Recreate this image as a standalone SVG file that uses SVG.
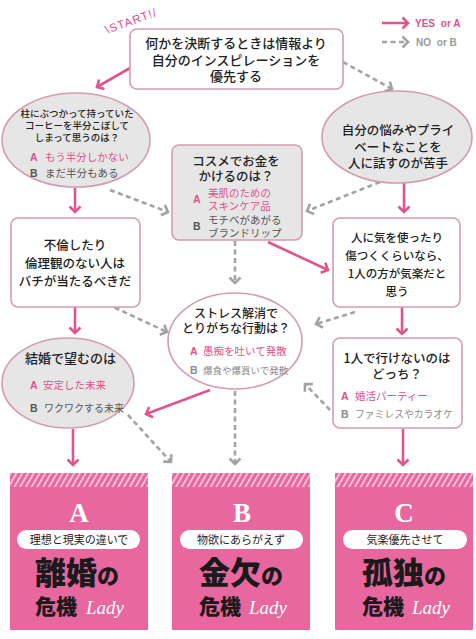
<svg xmlns="http://www.w3.org/2000/svg" width="476" height="639" viewBox="0 0 476 639">
<defs>
<style>
.box{fill:#fff;stroke:#d49bb4;stroke-width:1.6}
.gbox{fill:#e6e6e6;stroke:#d49bb4;stroke-width:1.6}
.q{font-family:"Noto Sans CJK JP","Noto Sans",sans-serif;font-weight:500;fill:#222;text-anchor:middle}
.o{font-family:"Noto Sans CJK JP","Noto Sans",sans-serif;font-weight:400}
.pa{fill:#e0508c}
.gd{fill:#555}
.gl{fill:#8a8a8a}
.lab{font-family:"Liberation Sans",sans-serif;font-weight:700}
.yes{fill:none;stroke:#e0558f;stroke-width:2.6;marker-end:url(#mp)}
.no{fill:none;stroke:#a3a3a3;stroke-width:2.6;stroke-dasharray:5 3.5;marker-end:url(#mg)}
.card{fill:#e8679f}
.pill{fill:#fff}
.pt{font-family:"Noto Sans CJK JP",sans-serif;font-size:11px;fill:#222;text-anchor:middle}
.big{font-family:"Noto Sans CJK JP",sans-serif;font-weight:900;fill:#1a1a1a}
.lady{font-family:"Liberation Serif",serif;font-style:italic;font-size:19px;fill:#fff}
.let{font-family:"Liberation Serif",serif;font-weight:700;font-size:27px;fill:#fff;text-anchor:middle}
</style>
<marker id="mp" markerUnits="userSpaceOnUse" markerWidth="14" markerHeight="14" refX="7" refY="7" orient="auto" viewBox="0 0 14 14">
<path d="M1.5,1.5 L7,7 L1.5,12.5" fill="none" stroke="#e0558f" stroke-width="2.6"/>
</marker>
<marker id="mg" markerUnits="userSpaceOnUse" markerWidth="14" markerHeight="14" refX="7" refY="7" orient="auto" viewBox="0 0 14 14">
<path d="M1.5,1.5 L7,7 L1.5,12.5" fill="none" stroke="#a3a3a3" stroke-width="2.6"/>
</marker>
<pattern id="stripe" width="5" height="5" patternUnits="userSpaceOnUse" patternTransform="rotate(30)">
<rect x="0" y="0" width="1.6" height="5" fill="#fbd3e4"/>
</pattern>
</defs>
<rect width="476" height="639" fill="#fff"/>

<g id="legend">
<line x1="382" y1="23" x2="408" y2="23" class="yes"/>
<text x="415" y="27" class="lab" font-size="10" fill="#e0508c">YES <tspan dx="3">or A</tspan></text>
<line x1="382" y1="42" x2="408" y2="42" class="no"/>
<text x="416" y="46" class="lab" font-size="10" fill="#9a9a9a">NO <tspan dx="3">or B</tspan></text>
</g>

<g id="start">
<text x="107" y="34" transform="rotate(-20 107 34)" font-family="Liberation Sans, sans-serif" font-size="11.5" fill="#e0508c" letter-spacing="1">\START!/</text>
</g>

<g id="connectors">
<line x1="130" y1="68" x2="97" y2="87" class="yes"/>
<line x1="343" y1="62" x2="392" y2="89" class="no"/>
<line x1="75" y1="188" x2="75" y2="212" class="yes"/>
<line x1="110" y1="190" x2="168" y2="212" class="no"/>
<line x1="380" y1="182" x2="307" y2="211" class="no"/>
<line x1="404" y1="183" x2="404" y2="212" class="yes"/>
<line x1="268" y1="242" x2="328" y2="270" class="yes"/>
<line x1="235" y1="241" x2="235" y2="283" class="no"/>
<line x1="75" y1="307" x2="75" y2="333" class="yes"/>
<line x1="107" y1="304" x2="167" y2="332" class="no"/>
<line x1="355" y1="312" x2="316" y2="324" class="no"/>
<line x1="402" y1="307" x2="402" y2="334" class="yes"/>
<line x1="210" y1="390" x2="146" y2="414" class="yes"/>
<line x1="235" y1="391" x2="235" y2="464" class="no"/>
<line x1="330" y1="410" x2="305" y2="384" class="no"/>
<line x1="128" y1="415" x2="171" y2="462" class="no"/>
<line x1="73" y1="429" x2="73" y2="465" class="yes"/>
<line x1="403" y1="429" x2="403" y2="465" class="yes"/>
</g>

<g id="n-start">
<rect x="130" y="29" width="213" height="60" rx="7" class="box"/>
<text class="q" font-size="13"><tspan x="236" y="48">何かを決断するときは情報より</tspan><tspan x="236" y="65">自分のインスピレーションを</tspan><tspan x="236" y="81">優先する</tspan></text>
</g>

<g id="n-coffee">
<ellipse cx="76" cy="140" rx="74" ry="47" class="gbox"/>
<text class="q" font-size="9.5"><tspan x="77" y="117">柱にぶつかって持っていた</tspan><tspan x="77" y="129">コーヒーを半分こぼして</tspan><tspan x="77" y="141">しまって思うのは？</tspan></text>
<text x="30" y="161" class="lab pa" font-size="10.5">A</text>
<text x="45" y="161" class="o pa" font-size="10.5">もう半分しかない</text>
<text x="30" y="177" class="lab gd" font-size="10.5">B</text>
<text x="45" y="177" class="o gd" font-size="10.5">まだ半分もある</text>
</g>

<g id="n-cosme">
<rect x="172" y="145" width="130" height="95" rx="7" class="gbox"/>
<text class="q" font-size="12.5"><tspan x="236" y="166">コスメでお金を</tspan><tspan x="236" y="181">かけるのは？</tspan></text>
<text x="193" y="203" class="lab pa" font-size="10.5">A</text>
<text class="o pa" font-size="10.5"><tspan x="208" y="197">美肌のための</tspan><tspan x="208" y="209.5">スキンケア品</tspan></text>
<text x="193" y="230" class="lab gd" font-size="10.5">B</text>
<text class="o gd" font-size="10.5"><tspan x="208" y="224">モチベがあがる</tspan><tspan x="208" y="236.5">ブランドリップ</tspan></text>
</g>

<g id="n-private">
<ellipse cx="397" cy="137" rx="75" ry="46" class="gbox"/>
<text class="q" font-size="12.5"><tspan x="398" y="135">自分の悩みやプライ</tspan><tspan x="398" y="152">ベートなことを</tspan><tspan x="398" y="168">人に話すのが苦手</tspan></text>
</g>

<g id="n-furin">
<rect x="11" y="218" width="129" height="89" rx="7" class="box"/>
<text class="q" font-size="12.5"><tspan x="75" y="250">不倫したり</tspan><tspan x="75" y="268">倫理観のない人は</tspan><tspan x="75" y="286">バチが当たるべきだ</tspan></text>
</g>

<g id="n-hitori">
<rect x="333" y="218" width="127" height="89" rx="7" class="box"/>
<text class="q" font-size="11.5"><tspan x="397" y="242">人に気を使ったり</tspan><tspan x="397" y="260">傷つくくらいなら、</tspan><tspan x="397" y="278">1人の方が気楽だと</tspan><tspan x="397" y="296">思う</tspan></text>
</g>

<g id="n-stress">
<ellipse cx="235" cy="341" rx="67" ry="48" class="box"/>
<text class="q" font-size="12"><tspan x="236" y="318">ストレス解消で</tspan><tspan x="236" y="333">とりがちな行動は？</tspan></text>
<text x="190" y="355" class="lab pa" font-size="10.5">A</text>
<text x="203" y="355" class="o pa" font-size="10.5">愚痴を吐いて発散</text>
<text x="190" y="374" class="lab gl" font-size="10.5">B</text>
<text x="203" y="374" class="o gl" font-size="9.5">爆食や爆買いで発散</text>
</g>

<g id="n-kekkon">
<ellipse cx="68" cy="383" rx="66" ry="45" class="gbox"/>
<text x="25" y="363" class="q" font-size="13" style="text-anchor:start">結婚で望むのは</text>
<text x="30" y="389" class="lab pa" font-size="10.5">A</text>
<text x="43" y="389" class="o pa" font-size="10.5">安定した未来</text>
<text x="30" y="412" class="lab gd" font-size="10.5">B</text>
<text x="44" y="412" class="o gd" font-size="10">ワクワクする未来</text>
</g>

<g id="n-ikenai">
<rect x="333" y="338" width="129" height="90" rx="7" class="box"/>
<text class="q" font-size="12.5"><tspan x="397" y="363">1人で行けないのは</tspan><tspan x="397" y="379">どっち？</tspan></text>
<text x="341" y="400" class="lab pa" font-size="10.5">A</text>
<text x="355" y="400" class="o pa" font-size="10.5">婚活パーティー</text>
<text x="341" y="418" class="lab gl" font-size="10.5">B</text>
<text x="355" y="418" class="o gl" font-size="9.8">ファミレスやカラオケ</text>
</g>

<g id="card-a">
<rect x="10" y="473" width="138" height="157" class="card"/>
<rect x="10" y="473" width="138" height="14" fill="url(#stripe)"/>
<text x="79" y="522" class="let">A</text>
<rect x="17" y="530" width="123" height="19" rx="9.5" class="pill"/>
<text x="79" y="544" class="pt">理想と現実の違いで</text>
<text x="35" y="584" class="big" font-size="31">離婚<tspan font-size="22">の</tspan></text>
<text x="35" y="614" class="big" font-size="21">危機</text>
<text x="86" y="614" class="lady">Lady</text>
</g>

<g id="card-b">
<rect x="172" y="473" width="138" height="157" class="card"/>
<rect x="172" y="473" width="138" height="14" fill="url(#stripe)"/>
<text x="242" y="522" class="let">B</text>
<rect x="180" y="530" width="123" height="19" rx="9.5" class="pill"/>
<text x="241" y="544" class="pt">物欲にあらがえず</text>
<text x="199" y="584" class="big" font-size="31">金欠<tspan font-size="22">の</tspan></text>
<text x="199" y="614" class="big" font-size="21">危機</text>
<text x="249" y="614" class="lady">Lady</text>
</g>

<g id="card-c">
<rect x="335" y="473" width="138" height="157" class="card"/>
<rect x="335" y="473" width="138" height="14" fill="url(#stripe)"/>
<text x="404" y="522" class="let">C</text>
<rect x="343" y="530" width="124" height="19" rx="9.5" class="pill"/>
<text x="405" y="544" class="pt">気楽優先させて</text>
<text x="362" y="584" class="big" font-size="31">孤独<tspan font-size="22">の</tspan></text>
<text x="362" y="614" class="big" font-size="21">危機</text>
<text x="412" y="614" class="lady">Lady</text>
</g>
</svg>
